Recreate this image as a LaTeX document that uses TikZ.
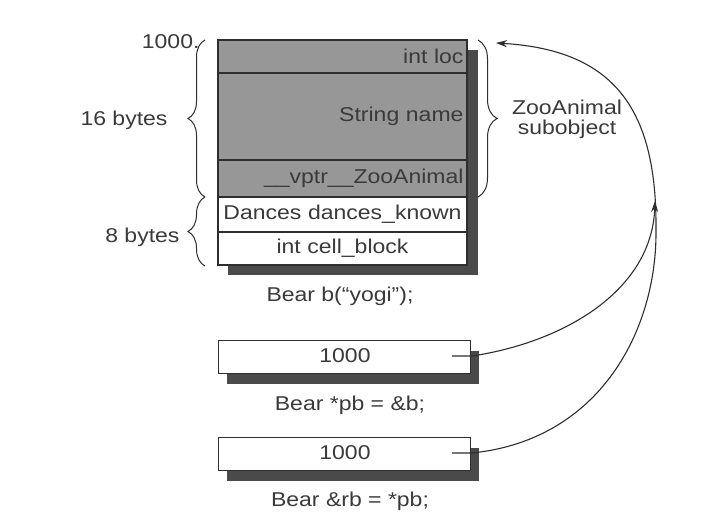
\documentclass[tikz,border=0pt]{standalone}
\usepackage{fontspec}
\setmainfont{Liberation Sans}[FakeStretch=1.15]
\usetikzlibrary{decorations.pathreplacing,arrows.meta,shadows}
\definecolor{txt}{HTML}{3A3A3A}
\definecolor{lineC}{HTML}{2E2E2E}
\definecolor{cellgray}{HTML}{979797}
\definecolor{shadowC}{HTML}{4A4A4A}
\begin{document}
\begin{tikzpicture}[x=1pt,y=-1pt,
  font=\fontsize{20}{23}\selectfont,
  every node/.style={text=txt},
  cell/.style={draw=lineC, line width=1.2pt, minimum width=249pt, anchor=north west,
    inner sep=0pt, outer sep=0pt},
  grayrow/.style={cell, fill=cellgray, text width=242pt, align=right},
  whiterow/.style={cell, fill=white, text width=242pt, align=center},
  ptrbox/.style={draw=lineC, line width=1.2pt, fill=white, minimum width=252pt,
    minimum height=33pt, anchor=north west, inner sep=0pt,
    drop shadow={shadow xshift=8pt, shadow yshift=-10pt, fill=shadowC, opacity=1}},
  bracel/.style={draw=lineC, line width=1pt, decorate,
    decoration={brace, amplitude=17pt, mirror}},
  bracer/.style={draw=lineC, line width=1pt, decorate,
    decoration={brace, amplitude=19pt}},
  conn/.style={draw=lineC, line width=1.1pt},
  tip/.style={-{Stealth[length=11pt,width=7pt]}}
]
\useasboundingbox[fill=white] (0,0) rectangle (701,514);

% shadow of the object
\fill[shadowC] (228,50) rectangle (478,275);

% object rows
\node[grayrow, minimum height=33pt] (loc) at (218,40) {int loc};
\node[grayrow, minimum height=87pt] (name) at (218,73) {String name};
\node[grayrow, minimum height=37pt] (vptr) at (218,160) {\_\_vptr\_\_ZooAnimal};
\node[whiterow, minimum height=35pt] (dances) at (218,197) {Dances dances\_known};
\node[whiterow, minimum height=33pt] (cell) at (218,232) {int cell\_block};

% labels
\node[anchor=east] (addr) at (203,42) {1000.};
\node[anchor=east] (b16) at (171,120) {16 bytes};
\node[anchor=east] (b8) at (183,237) {8 bytes};
\node[align=center] (zoo) at (567,119) {ZooAnimal\\[-3pt]subobject};
\node (decl) at (340,296) {Bear b(``yogi'');};

% braces
\draw[bracel] (205,40) -- (205,197);
\draw[bracel] (205,197) -- (205,266);
\draw[bracer] (478,40) -- (478,197);

% pointer boxes
\node[ptrbox] (pb) at (218,340) {};
\node (pbval) at (345,356) {1000};
\node (pbdecl) at (350,405) {Bear *pb = \&b;};
\node[ptrbox] (rb) at (218,437) {};
\node (rbval) at (345,453) {1000};
\node (rbdecl) at (350,501) {Bear \&rb = *pb;};

% connectors
\coordinate (pbs) at (452,356);
\coordinate (rbs) at (452,453);
\coordinate (mid) at (655,201);
\coordinate (top) at (496,43);
\draw[conn, tip] (pbs) -- (472,356) .. controls (565,342) and (652,290) .. (mid);
\draw[conn, tip] (rbs) -- (472,453) .. controls (600,440) and (657,330) .. (656,230)
  .. controls (657,110) and (615,50) .. (top);
\end{tikzpicture}
\end{document}
